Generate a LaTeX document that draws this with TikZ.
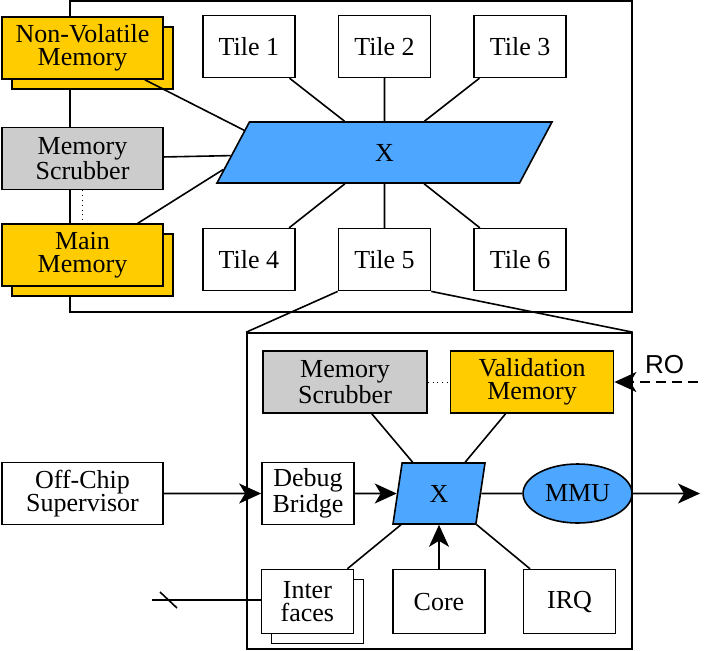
\documentclass[tikz,border=0pt]{standalone}
\usepackage{fontspec}
\setmainfont{Liberation Serif}
\newfontfamily\labelfont{Liberation Sans}
\usepackage{tikz}
\usetikzlibrary{shapes.geometric, arrows.meta, positioning, shadows}
\definecolor{memyellow}{RGB}{255,204,0}
\definecolor{scrubgray}{RGB}{204,204,204}
\definecolor{xbarblue}{RGB}{77,166,255}

\begin{document}
\begin{tikzpicture}[
    x=0.5pt, y=-0.5pt,
    font=\fontsize{13}{11.5}\selectfont,
    framebox/.style={rectangle, draw, thick, inner sep=0pt},
    block/.style={rectangle, draw, thick, fill=white, align=center,
                  inner sep=0pt, minimum width=46pt, minimum height=31pt},
    memblock/.style={block, fill=memyellow, minimum width=80.5pt},
    scrubblock/.style={block, fill=scrubgray, minimum width=80.5pt},
    stacked/.style={copy shadow={shadow xshift=5pt, shadow yshift=-5pt}},
    xbar/.style={trapezium, trapezium stretches body=true, draw, thick,
                 fill=xbarblue, inner xsep=0pt, inner ysep=10.95pt,
                 text height=8.6pt, text depth=0pt},
    link/.style={thick},
    arrow/.style={-{Stealth[length=11pt, width=10pt, inset=3pt]}, thick}
]
\useasboundingbox (0,0) rectangle (725,650);

% chip outline and zoomed tile
\node[framebox, minimum width=281pt, minimum height=155.5pt] (chip) at (351,156.5) {};
\node[framebox, minimum width=192.5pt, minimum height=158pt] (tilezoom) at (439.5,491) {};

% chip level
\node[xbar, trapezium left angle=62, trapezium right angle=118,
      minimum width=167.5pt] (xbig) at (384.5,152.5) {X};
\node[block] (tile2) [above=21.5pt of xbig] {Tile 2};
\node[block] (tile1) [left=21pt of tile2]   {Tile 1};
\node[block] (tile3) [right=21pt of tile2]  {Tile 3};
\node[block] (tile5) [below=22pt of xbig]   {Tile 5};
\node[block] (tile4) [left=21pt of tile5]   {Tile 4};
\node[block] (tile6) [right=21pt of tile5]  {Tile 6};
\node[memblock, stacked] (nvm) at (82.5,48) {Non-Volatile\\Memory};
\node[scrubblock] (scrub) [below=23.5pt of nvm] {Memory\\Scrubber};
\node[memblock, stacked] (mainmem) [below=16.5pt of scrub] {Main\\Memory};

\draw[link] (tile1) -- (xbig);
\draw[link] (tile2) -- (xbig);
\draw[link] (tile3) -- (xbig);
\draw[link] (tile4) -- (xbig);
\draw[link] (tile5) -- (xbig);
\draw[link] (tile6) -- (xbig);
\draw[link] (nvm.-27) -- (xbig.171);
\draw[link] (scrub) -- (xbig);
\draw[link] (mainmem.30) -- (xbig.186);
\draw[dotted] (scrub) -- (mainmem);
\draw[link] (tile5.south west) -- (tilezoom.north west);
\draw[link] (tile5.south east) -- (tilezoom.north east);

% inside a tile
\node[xbar, trapezium left angle=81.5, trapezium right angle=98.5,
      minimum width=46pt] (xsmall) at (439,493.5) {X};
\node[block] (debug) [left=21pt of xsmall] {Debug\\Bridge};
\node[block, minimum width=80.5pt] (offchip) at (82.5,493.5) {Off-Chip\\Supervisor};
\node[ellipse, draw, thick, fill=xbarblue, inner sep=0pt,
      minimum width=54.5pt, minimum height=29.5pt] (mmu) [right=20.5pt of xsmall] {MMU};
\node[block, minimum height=32pt] (core) [below=22pt of xsmall] {Core};
\node[block, minimum height=32pt, stacked] (interfaces) [left=19pt of core] {Inter\\faces};
\node[block, minimum height=32pt] (irq) [right=18.5pt of core] {IRQ};
\node[scrubblock, minimum width=82pt] (scrub2) at (345,382) {Memory\\Scrubber};
\node[memblock, minimum width=81.5pt] (valid) [right=11pt of scrub2] {Validation\\Memory};
\coordinate (roin) at (698,382);
\coordinate (mmuout) at (700,493.5);
\coordinate (busin) at (152,600);

\draw[arrow] (offchip) -- (debug);
\draw[arrow] (debug) -- (xsmall);
\draw[link] (xsmall) -- (mmu);
\draw[arrow] (mmu) -- (mmuout);
\draw[arrow] (core) -- (xsmall);
\draw[link] (interfaces) -- (xsmall);
\draw[link] (irq) -- (xsmall);
\draw[link] (scrub2) -- (xsmall);
\draw[link] (valid) -- (xsmall);
\draw[dotted] (scrub2) -- (valid);
\draw[arrow, dash pattern=on 5pt off 3pt] (roin) -- (valid)
    node[pos=0.4, above=3.5pt, inner sep=0pt] {\labelfont RO};
\draw[link] (busin) -- (busin -| interfaces.west);
\draw[link] ([shift={(8,-8)}]busin) -- ++(17,16);
\end{tikzpicture}
\end{document}
